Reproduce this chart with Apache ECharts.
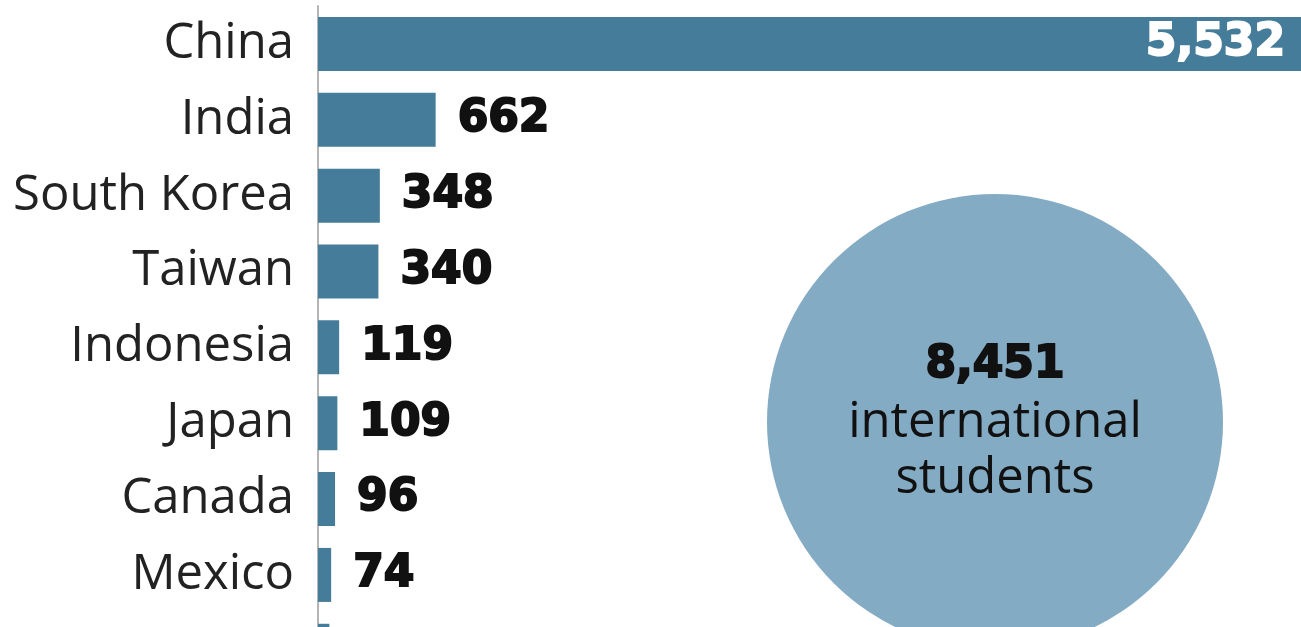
<!DOCTYPE html>
<html>
<head>
<meta charset="utf-8">
<script src="https://cdn.jsdelivr.net/npm/echarts@6/dist/echarts.min.js"></script>
<style>
html,body{margin:0;padding:0;background:#fff;}
#c{width:1301px;height:627px;}
</style>
</head>
<body>
<div id="c"></div>
<script>
const categories = ['China', 'India', 'South Korea', 'Taiwan', 'Indonesia', 'Japan', 'Canada', 'Mexico', ''];
const students = [5532, 662, 348, 340, 119, 109, 96, 74, 64];
const totalStudents = 8451;
const totalCaption = ['international', 'students'];

const chart = echarts.init(document.getElementById('c'), null, {renderer: 'canvas'});
const fmt = v => v.toLocaleString('en-US');

chart.setOption({
  animation: false,
  backgroundColor: '#ffffff',
  grid: {left: 318, right: 0, top: 6, height: 682.7, containLabel: false, outerBoundsMode: 'none'},
  xAxis: {type: 'value', min: 0, max: 5532, show: false},
  yAxis: {
    type: 'category', data: categories, inverse: true,
    axisLine: {show: true, lineStyle: {color: '#b5b5b5', width: 2}},
    axisTick: {show: false},
    axisLabel: {fontFamily: 'Open Sans', fontSize: 49, color: '#222', margin: 24}
  },
  series: [{
    type: 'bar',
    data: students.map((v, i) => ({
      value: v,
      label: i === 0 ? {position: 'insideRight', color: '#fff', textBorderColor: '#fff', distance: 16} : {}
    })),
    barWidth: 54,
    itemStyle: {color: '#457c99'},
    label: {
      show: true, position: 'right', distance: 22,
      fontFamily: 'DejaVu Sans', fontWeight: 'bold', fontSize: 44, color: '#111',
      textBorderColor: '#111', textBorderWidth: 2,
      formatter: p => fmt(p.value)
    }
  }],
  graphic: [
    {type: 'circle', shape: {cx: 995, cy: 422, r: 228}, style: {fill: '#84abc4'}, z: -1},
    {type: 'text', x: 995, y: 366, style: {text: fmt(totalStudents), font: 'bold 44px "DejaVu Sans"', fill: '#111', stroke: '#111', lineWidth: 2, textAlign: 'center', textVerticalAlign: 'middle'}},
    {type: 'text', x: 995, y: 423, style: {text: totalCaption[0], font: '400 49px "Open Sans"', fill: '#111', textAlign: 'center', textVerticalAlign: 'middle'}},
    {type: 'text', x: 995, y: 479, style: {text: totalCaption[1], font: '400 49px "Open Sans"', fill: '#111', textAlign: 'center', textVerticalAlign: 'middle'}}
  ]
});
</script>
</body>
</html>
